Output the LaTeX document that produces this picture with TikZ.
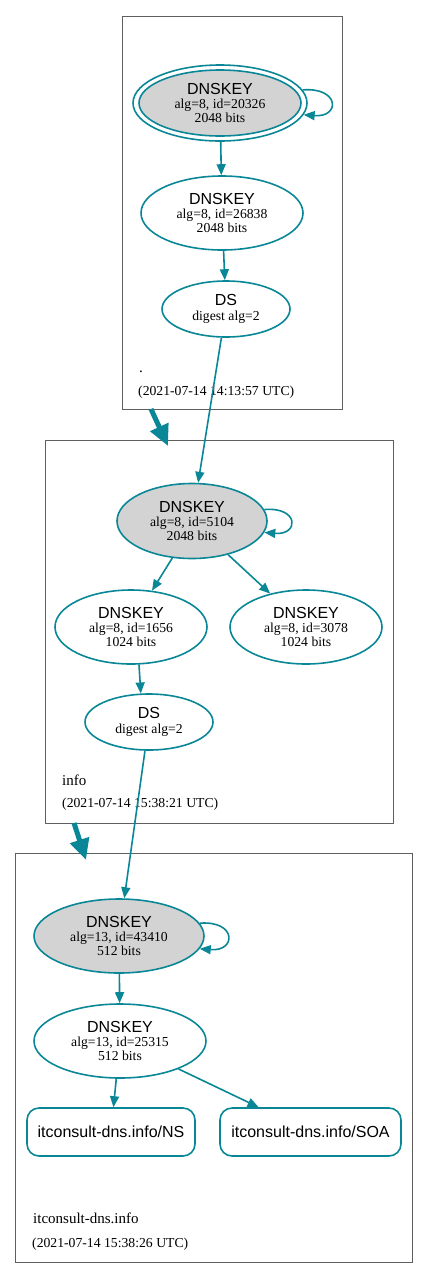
\documentclass[tikz,border=0pt]{standalone}
\usepackage{fontspec}
\setmainfont{Liberation Serif}
\setsansfont{Liberation Sans}
\usetikzlibrary{shapes.geometric,arrows.meta}
\definecolor{edgec}{RGB}{10,135,150}
\definecolor{keyfill}{RGB}{211,211,211}
\definecolor{clc}{RGB}{95,95,95}
\newcommand{\dk}{{\sffamily\fontsize{16}{16}\selectfont DNSKEY}\\[0.5pt]}
\newcommand{\dsl}{{\sffamily\fontsize{16}{16}\selectfont DS}\\[0.5pt]}
\begin{document}
\begin{tikzpicture}[x=1pt,y=-1pt,
 cl/.style={draw=clc, line width=0.9pt, rectangle, inner sep=0pt},
 key/.style={ellipse, draw=edgec, line width=1.6pt, inner sep=0pt, align=center, font=\fontsize{13.7}{14}\selectfont},
 ksk/.style={key, fill=keyfill},
 rr/.style={rectangle, rounded corners=12pt, draw=edgec, line width=1.6pt, font=\sffamily\fontsize{16}{18}\selectfont, inner sep=0pt, minimum height=48pt},
 arr/.style={draw=edgec, line width=1.6pt, -{Triangle[length=11pt,width=9pt]}},
 big/.style={draw=edgec, line width=5pt, -{Triangle[length=21pt,width=19pt]}},
 lab/.style={anchor=base west, inner sep=0pt, font=\fontsize{15}{15}\selectfont},
 ts/.style={anchor=base west, inner sep=0pt, font=\fontsize{13.7}{14}\selectfont}]
\useasboundingbox (0,0) rectangle (428,1278);
% cluster root
\node[cl, minimum width=220pt, minimum height=393pt] (c1) at (232,212.5) {};
\node[key, minimum width=174pt, minimum height=76pt] (rko) at (220,103) {};
\node[ksk, minimum width=162pt, minimum height=66pt] (rk) at (220,103) {\dk alg=8, id=20326\\2048 bits};
\node[key, minimum width=162pt, minimum height=74pt] (rz) at (222,213) {\dk alg=8, id=26838\\2048 bits};
\node[key, minimum width=128pt, minimum height=56pt] (rds) at (226,309) {\dsl digest alg=2};
\node[lab] (l1) at (139,372) {.};
\node[ts] (t1) at (138,395) {(2021-07-14 14:13:57 UTC)};
% cluster info
\node[cl, minimum width=348pt, minimum height=383pt] (c2) at (219,631.5) {};
\node[ksk, minimum width=150pt, minimum height=75pt] (ik) at (192,521) {\dk alg=8, id=5104\\2048 bits};
\node[key, minimum width=152pt, minimum height=74pt] (ia) at (131,627) {\dk alg=8, id=1656\\1024 bits};
\node[key, minimum width=152pt, minimum height=74pt] (ib) at (306,627) {\dk alg=8, id=3078\\1024 bits};
\node[key, minimum width=128pt, minimum height=56pt] (ids) at (149,722) {\dsl digest alg=2};
\node[lab] (l2) at (62,785) {info};
\node[ts] (t2) at (62,807) {(2021-07-14 15:38:21 UTC)};
% cluster itconsult
\node[cl, minimum width=397pt, minimum height=409pt] (c3) at (213.5,1057.5) {};
\node[ksk, minimum width=170pt, minimum height=74pt] (ck) at (119,936) {\dk alg=13, id=43410\\512 bits};
\node[key, minimum width=172pt, minimum height=74pt] (cz) at (120,1041) {\dk alg=13, id=25315\\512 bits};
\node[rr, minimum width=168pt] (ns) at (111,1132) {itconsult-dns.info/NS};
\node[rr, minimum width=181pt] (soa) at (310.5,1132) {itconsult-dns.info/SOA};
\node[lab] (l3) at (33,1223) {itconsult-dns.info};
\node[ts] (t3) at (32,1247) {(2021-07-14 15:38:26 UTC)};
% self loops
\draw[arr] (rko.9) .. controls +(37,-3) and +(37,3) .. (rko.-8);
\draw[arr] (ik.9) .. controls +(35,-3) and +(35,3) .. (ik.-9);
\draw[arr] (ck.9) .. controls +(37,-3) and +(37,3) .. (ck.-9);
% edges
\draw[arr] (rko) -- (rz);
\draw[arr] (rz) -- (rds);
\draw[arr] (rds) -- (ik);
\draw[arr] (ik.-118) -- (ia.60);
\draw[arr] (ik.-43) -- (ib.137);
\draw[arr] (ia.-78) -- (ids.106);
\draw[arr] (ids) -- (ck);
\draw[arr] (ck) -- (cz);
\draw[arr] (cz) -- (ns);
\draw[arr] (cz) -- (soa);
% cluster links
\coordinate (b1s) at (151,409);
\coordinate (b1e) at (168,446);
\coordinate (b2s) at (74,823);
\coordinate (b2e) at (86,860);
\draw[big] (b1s) -- (b1e);
\draw[big] (b2s) -- (b2e);
\end{tikzpicture}
\end{document}
